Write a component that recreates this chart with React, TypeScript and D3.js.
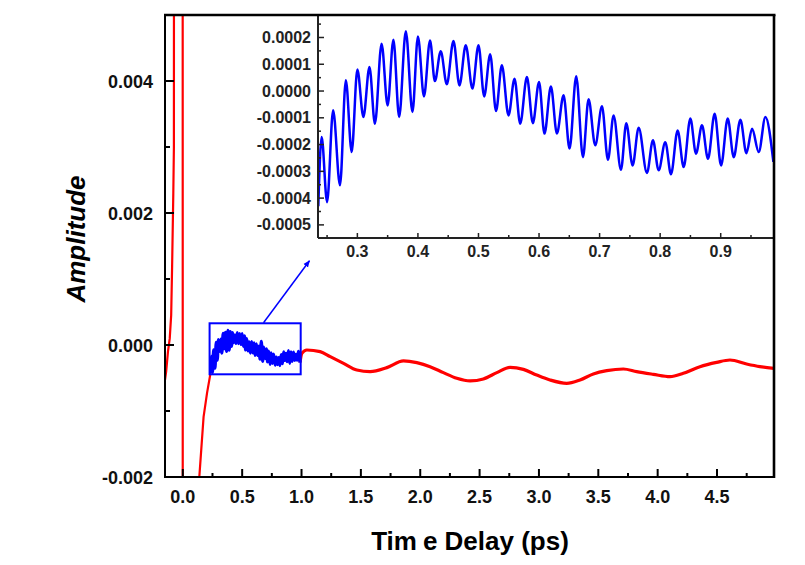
import React from "react";
import * as d3 from "d3";

// ---------- data ----------
// early red transient (off-scale spike is clipped by the plot frame)
const redEarlyT = [-0.15, -0.14, -0.125, -0.11, -0.098, -0.09, -0.08, -0.075, -0.072, -0.002, 0.0, 0.137, 0.139, 0.175, 0.204, 0.231, 0.2355];
const redEarlyV = [-0.00053, -0.0004, -0.0001, 0.0001, 0.00045, 0.0012, 0.0023, 0.003, 0.02, 0.02, -0.01, -0.01, -0.002, -0.00109, -0.00073, -0.00045, -0.00043];

// blue zoomed region (0.235 - 0.99 ps)
const blueT = [
  0.2355, 0.241, 0.25, 0.26, 0.2713, 0.281, 0.2906, 0.3, 0.31, 0.32, 0.329, 0.34, 0.35, 0.3595, 0.369, 0.38,
  0.391, 0.4, 0.41, 0.42, 0.428, 0.4377, 0.4477, 0.4587, 0.4686, 0.479, 0.49, 0.5, 0.5094, 0.5193, 0.529,
  0.5386, 0.5496, 0.5595, 0.5689, 0.58, 0.5898, 0.6, 0.609, 0.6196, 0.6295, 0.6405, 0.6504, 0.6614, 0.6725,
  0.6818, 0.6928, 0.7039, 0.7138, 0.7231, 0.7353, 0.7441, 0.7545, 0.7645, 0.7782, 0.7881, 0.7975, 0.8085,
  0.8179, 0.8289, 0.8388, 0.8499, 0.8592, 0.8691, 0.879, 0.89, 0.9006, 0.9116, 0.9215, 0.9325, 0.9424,
  0.9518, 0.9628, 0.9738, 0.987,
];
const blueV = [
  -4.3e-4, -1.72e-4, -4.15e-4, -0.72e-4, -3.52e-4, 0.4e-4, -2.28e-4, 0.8e-4, -0.97e-4, 0.9e-4, -1.22e-4, 1.77e-4,
  -0.54e-4, 1.92e-4, -0.97e-4, 2.23e-4, -0.78e-4, 2.04e-4, -0.2e-4, 1.89e-4, 0.37e-4, 1.49e-4, 0.25e-4, 1.87e-4,
  0.21e-4, 1.71e-4, 0.09e-4, 1.71e-4, -0.2e-4, 1.37e-4, -0.75e-4, 0.96e-4, -0.91e-4, 0.46e-4, -1.22e-4, 0.52e-4,
  -1.2e-4, 0.34e-4, -1.59e-4, 0.17e-4, -1.59e-4, -0.16e-4, -2.15e-4, 0.55e-4, -2.47e-4, -0.31e-4, -2.03e-4,
  -0.57e-4, -2.57e-4, -0.91e-4, -2.94e-4, -1.2e-4, -2.78e-4, -1.37e-4, -3.06e-4, -1.84e-4, -2.96e-4, -1.91e-4,
  -3.11e-4, -1.47e-4, -2.84e-4, -1.03e-4, -2.34e-4, -1.28e-4, -2.53e-4, -0.85e-4, -2.78e-4, -1.03e-4, -2.47e-4,
  -1.07e-4, -2.32e-4, -1.41e-4, -2.28e-4, -0.97e-4, -2.65e-4,
];

// red tail after 1 ps
const redLateT = [0.987, 1.003, 1.045, 1.157, 1.242, 1.354, 1.466, 1.578, 1.719, 1.859, 1.971, 2.083, 2.195, 2.308, 2.42, 2.532, 2.645, 2.757, 2.869, 2.981, 3.093, 3.234, 3.346, 3.458, 3.571, 3.711, 3.823, 3.963, 4.104, 4.216, 4.356, 4.497, 4.609, 4.749, 4.861, 4.98];
const redLateV = [-2.65e-4, -1.26e-4, -0.76e-4, -1.01e-4, -1.77e-4, -2.78e-4, -3.79e-4, -4.04e-4, -3.43e-4, -2.42e-4, -2.68e-4, -3.28e-4, -4.19e-4, -5.05e-4, -5.45e-4, -5.15e-4, -4.19e-4, -3.38e-4, -3.69e-4, -4.55e-4, -5.3e-4, -5.81e-4, -5.3e-4, -4.39e-4, -3.89e-4, -3.64e-4, -4.04e-4, -4.44e-4, -4.8e-4, -4.29e-4, -3.28e-4, -2.63e-4, -2.27e-4, -2.88e-4, -3.28e-4, -3.54e-4];

// ticks
const xMajor = [0, 0.5, 1, 1.5, 2, 2.5, 3, 3.5, 4, 4.5];
const xMajorLabels = ["0.0", "0.5", "1.0", "1.5", "2.0", "2.5", "3.0", "3.5", "4.0", "4.5"];
const xMinor = [0.25, 0.75, 1.25, 1.75, 2.25, 2.75, 3.25, 3.75, 4.25, 4.75];
const yMajor = [-0.002, 0, 0.002, 0.004];
const yMajorLabels = ["-0.002", "0.000", "0.002", "0.004"];
const yMinor = [-0.001, 0.001, 0.003];

const inXMajor = [0.3, 0.4, 0.5, 0.6, 0.7, 0.8, 0.9];
const inXMajorLabels = ["0.3", "0.4", "0.5", "0.6", "0.7", "0.8", "0.9"];
const inXMinor = [0.25, 0.35, 0.45, 0.55, 0.65, 0.75, 0.85, 0.95];
const inYMajor = [-0.0005, -0.0004, -0.0003, -0.0002, -0.0001, 0, 0.0001, 0.0002];
const inYMajorLabels = ["-0.0005", "-0.0004", "-0.0003", "-0.0002", "-0.0001", "0.0000", "0.0001", "0.0002"];
const inYMinor = [-0.00045, -0.00035, -0.00025, -0.00015, -0.00005, 0.00005, 0.00015, 0.00025];

// annotation (data coords of main plot)
const zoomBox = { t0: 0.2256, t1: 0.993, v0: -0.000444, v1: 0.000329 };
const arrow = { t0: 0.68, v0: 0.000338, t1: 1.067, v1: 0.001277 };

const FONT = "'Liberation Sans', Arial, Helvetica, sans-serif";
const RED = "#ff0000";
const BLUE = "#0000ff";

export default function App() {
  const L = 165, R = 774, T = 15, B = 477;
  const IL = 318, IB = 238;
  const x = d3.scaleLinear().domain([-0.15, 4.98]).range([L, R]);
  const y = d3.scaleLinear().domain([-0.002, 0.005]).range([B, T]);
  const xi = d3.scaleLinear().domain([0.235, 0.988]).range([IL, R]);
  const yi = d3.scaleLinear().domain([-0.000549, 0.000284]).range([IB, T]);

  const zip = (a: number[], b: number[]) => a.map((t, i) => [t, b[i]] as [number, number]);
  const redEarly = zip(redEarlyT, redEarlyV);
  const blue = zip(blueT, blueV);
  const redLate = zip(redLateT, redLateV);

  const lineMainLin = d3.line<[number, number]>().x((d) => x(d[0])).y((d) => y(d[1]));
  const lineMainMono = d3.line<[number, number]>().x((d) => x(d[0])).y((d) => y(d[1])).curve(d3.curveMonotoneX);
  const lineInset = d3.line<[number, number]>().x((d) => xi(d[0])).y((d) => yi(d[1])).curve(d3.curveMonotoneX);

  return (
    <svg width={805} height={565} style={{ position: "absolute", left: 0, top: 0, background: "#fff" }} fontFamily={FONT}>
      <defs>
        <clipPath id="mainClip">
          <rect x={L} y={T} width={R - L} height={B - T} />
        </clipPath>
        <clipPath id="insetClip">
          <rect x={IL} y={T} width={R - IL} height={IB - T} />
        </clipPath>
        <marker id="arr" viewBox="0 0 10 10" refX={9} refY={5} markerWidth={7} markerHeight={7} orient="auto" markerUnits="userSpaceOnUse">
          <path d="M0,1 L10,5 L0,9 z" fill={BLUE} />
        </marker>
      </defs>
      <rect x={0} y={0} width={805} height={565} fill="#fff" />

      {/* main data */}
      <g clipPath="url(#mainClip)">
        <path d={lineMainLin(redEarly) || ""} fill="none" stroke={RED} strokeWidth={2.2} />
        <path d={lineMainMono(redLate) || ""} fill="none" stroke={RED} strokeWidth={3.2} />
        <path d={lineMainMono(blue) || ""} fill="none" stroke={BLUE} strokeWidth={3.2} />
      </g>

      {/* zoom box and arrow */}
      <rect
        x={x(zoomBox.t0)}
        y={y(zoomBox.v1)}
        width={x(zoomBox.t1) - x(zoomBox.t0)}
        height={y(zoomBox.v0) - y(zoomBox.v1)}
        fill="none"
        stroke={BLUE}
        strokeWidth={2}
      />
      <line x1={x(arrow.t0)} y1={y(arrow.v0)} x2={x(arrow.t1)} y2={y(arrow.v1)} stroke={BLUE} strokeWidth={1.5} markerEnd="url(#arr)" />

      {/* main axes ticks */}
      {xMajor.map((v) => (
        <line key={"xM" + v} x1={x(v)} x2={x(v)} y1={B} y2={B - 8} stroke="#000" strokeWidth={2} />
      ))}
      {xMinor.map((v) => (
        <line key={"xm" + v} x1={x(v)} x2={x(v)} y1={B} y2={B - 4} stroke="#000" strokeWidth={2} />
      ))}
      {yMajor.map((v) => (
        <line key={"yM" + v} x1={L} x2={L + 9} y1={y(v)} y2={y(v)} stroke="#000" strokeWidth={2} />
      ))}
      {yMinor.map((v) => (
        <line key={"ym" + v} x1={L} x2={L + 5} y1={y(v)} y2={y(v)} stroke="#000" strokeWidth={2} />
      ))}
      {xMajor.map((v, i) => (
        <text key={"xl" + v} x={x(v)} y={503} textAnchor="middle" fontSize={18} fontWeight="bold" fill="#111">
          {xMajorLabels[i]}
        </text>
      ))}
      {yMajor.map((v, i) => (
        <text key={"yl" + v} x={153} y={y(v) + 6.5} textAnchor="end" fontSize={18} fontWeight="bold" fill="#111">
          {yMajorLabels[i]}
        </text>
      ))}

      {/* inset */}
      <rect x={IL} y={T} width={R - IL} height={IB - T} fill="#fff" />
      <g clipPath="url(#insetClip)">
        <path d={lineInset(blue) || ""} fill="none" stroke={BLUE} strokeWidth={2.5} />
      </g>
      {inXMajor.map((v) => (
        <line key={"ixM" + v} x1={xi(v)} x2={xi(v)} y1={IB} y2={IB - 5} stroke="#222" strokeWidth={1.5} />
      ))}
      {inXMinor.map((v) => (
        <line key={"ixm" + v} x1={xi(v)} x2={xi(v)} y1={IB} y2={IB - 3} stroke="#222" strokeWidth={1.5} />
      ))}
      {inYMajor.map((v) => (
        <line key={"iyM" + v} x1={IL} x2={IL + 6} y1={yi(v)} y2={yi(v)} stroke="#222" strokeWidth={1.5} />
      ))}
      {inYMinor.map((v) => (
        <line key={"iym" + v} x1={IL} x2={IL + 3} y1={yi(v)} y2={yi(v)} stroke="#222" strokeWidth={1.5} />
      ))}
      {inXMajor.map((v, i) => (
        <text key={"ixl" + v} x={xi(v)} y={256.5} textAnchor="middle" fontSize={16} fontWeight="bold" fill="#222">
          {inXMajorLabels[i]}
        </text>
      ))}
      {inYMajor.map((v, i) => (
        <text key={"iyl" + v} x={311} y={yi(v) + 5.5} textAnchor="end" fontSize={16} fontWeight="bold" fill="#222">
          {inYMajorLabels[i]}
        </text>
      ))}
      <line x1={IL} x2={IL} y1={T} y2={IB} stroke="#222" strokeWidth={2} />
      <line x1={IL} x2={R} y1={IB} y2={IB} stroke="#222" strokeWidth={2} />

      {/* main frame */}
      <line x1={L} x2={L} y1={T} y2={B + 1} stroke="#000" strokeWidth={2} />
      <line x1={L - 1} x2={R + 1} y1={B} y2={B} stroke="#000" strokeWidth={2} />
      <line x1={L - 1} x2={R + 1.5} y1={T} y2={T} stroke="#000" strokeWidth={2.6} />
      <line x1={R} x2={R} y1={T} y2={B + 1} stroke="#000" strokeWidth={2.6} />

      {/* axis titles */}
      <text x={470} y={550} textAnchor="middle" fontSize={26} fontWeight="bold" fill="#000">
        <tspan>Tim</tspan>
        <tspan dx={6}>e Delay (ps)</tspan>
      </text>
      <text transform="translate(85,239) rotate(-90)" textAnchor="middle" fontSize={26} fontWeight="bold" fontStyle="italic" fill="#000">
        Amplitude
      </text>
    </svg>
  );
}
